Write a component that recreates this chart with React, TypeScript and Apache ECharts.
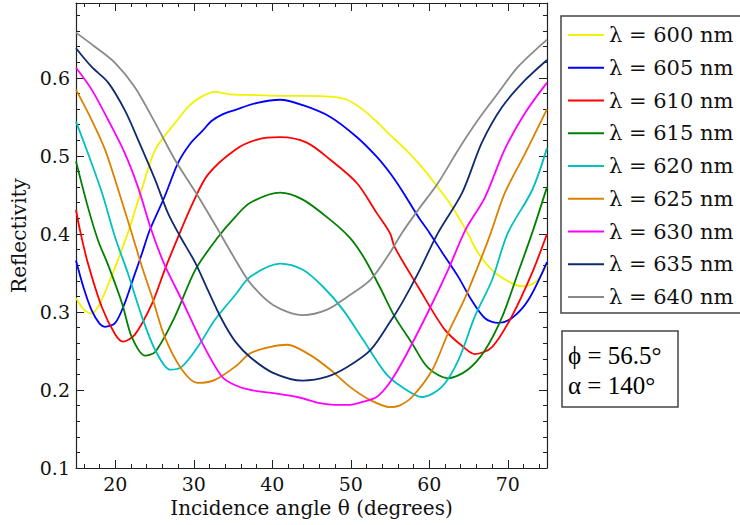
import React, { useEffect, useRef } from "react";
import * as echarts from "echarts";

// ---- data: [incidence angle (deg), reflectivity]
const lambda600 = [[15,0.318],[16,0.303],[17,0.298],[18,0.31],[19.5,0.345],[21.6,0.401],[23.3,0.455],[25.1,0.508],[27.6,0.542],[29.5,0.565],[31,0.576],[32.7,0.582],[34.6,0.579],[38,0.578],[41,0.577],[44,0.577],[47.4,0.576],[49.5,0.572],[51.6,0.559],[53.7,0.54],[55,0.527],[56.8,0.51],[58.6,0.491],[60.7,0.465],[62.9,0.435],[64.9,0.401],[65.8,0.383],[67,0.365],[68.4,0.35],[70.5,0.337],[71.8,0.333],[73.5,0.338],[75,0.36]];
const lambda605 = [[15,0.366],[16,0.33],[17,0.302],[18,0.285],[18.7,0.281],[20,0.286],[21.2,0.311],[22.3,0.343],[23.4,0.375],[24.4,0.405],[26.3,0.448],[28,0.491],[29.5,0.515],[31.1,0.532],[32.3,0.545],[33.6,0.553],[35.3,0.559],[38.1,0.568],[41,0.572],[43.9,0.565],[47.4,0.55],[50.8,0.524],[53.3,0.499],[55,0.478],[56.5,0.456],[58.6,0.422],[60,0.402],[61.6,0.377],[63.7,0.345],[65.4,0.315],[67.1,0.292],[68.8,0.286],[70.5,0.292],[72.6,0.315],[75,0.364]];
const lambda610 = [[15,0.431],[15.5,0.405],[16.5,0.363],[18.3,0.306],[20,0.271],[21,0.262],[22.5,0.271],[24.7,0.311],[26.3,0.354],[28,0.396],[29.8,0.438],[31.8,0.476],[35.3,0.508],[38.1,0.521],[41,0.524],[44.4,0.517],[47.4,0.495],[50.8,0.465],[53.3,0.427],[55,0.401],[55.6,0.383],[58.6,0.332],[62,0.277],[64.6,0.253],[65.8,0.246],[68,0.255],[70.5,0.294],[73.1,0.35],[75,0.4]];
const lambda615 = [[15,0.493],[16.5,0.435],[17.8,0.392],[19.1,0.36],[20.9,0.31],[22.1,0.268],[23.8,0.244],[25.1,0.249],[27.6,0.294],[30.2,0.354],[33.1,0.396],[35.3,0.422],[37.2,0.44],[41,0.453],[43.9,0.444],[47.4,0.418],[49.9,0.395],[51.6,0.371],[53.7,0.332],[55.6,0.294],[57.8,0.26],[59.8,0.229],[62.4,0.215],[64.9,0.226],[67.1,0.251],[69.3,0.294],[71.3,0.35],[73.1,0.401],[75,0.46]];
const lambda620 = [[15,0.544],[16.5,0.504],[18.3,0.453],[20,0.395],[21.6,0.35],[23.4,0.294],[25.1,0.251],[27,0.226],[28.5,0.23],[30.5,0.255],[32.7,0.29],[35.3,0.322],[37.2,0.345],[41,0.362],[43.9,0.354],[46.5,0.332],[49,0.303],[51.6,0.264],[54.4,0.222],[56.5,0.204],[59.1,0.191],[61.6,0.204],[63.7,0.238],[65.8,0.294],[68,0.341],[70,0.401],[73.1,0.456],[75,0.51]];
const lambda625 = [[15,0.585],[17,0.546],[18.7,0.508],[20.4,0.456],[22.1,0.401],[23.4,0.358],[24.7,0.319],[26.3,0.268],[28.5,0.226],[30.5,0.209],[32.7,0.213],[35.3,0.23],[37.2,0.247],[39.7,0.255],[41.9,0.258],[44.8,0.245],[47.4,0.226],[49.9,0.204],[52.5,0.187],[55,0.178],[56.2,0.18],[57.8,0.191],[60.4,0.226],[62.4,0.273],[64.6,0.319],[66.7,0.371],[67.9,0.403],[69.6,0.452],[72.2,0.503],[75,0.56]];
const lambda630 = [[15,0.613],[17,0.585],[19.1,0.546],[21.2,0.504],[22.9,0.46],[24.6,0.405],[26.3,0.36],[28.5,0.315],[31.1,0.26],[33.6,0.217],[35.3,0.206],[37.2,0.2],[40.1,0.196],[43.2,0.191],[46.1,0.183],[48,0.181],[49.9,0.181],[51.6,0.185],[53.3,0.191],[55,0.21],[56.9,0.242],[59.8,0.299],[62.4,0.354],[64.6,0.405],[67.1,0.447],[69.6,0.508],[72.2,0.555],[75,0.594]];
const lambda635 = [[15,0.638],[17,0.614],[19.1,0.594],[21.2,0.559],[22.9,0.521],[25.1,0.469],[26.7,0.427],[28.2,0.398],[30.2,0.363],[31.8,0.328],[33.6,0.29],[35.3,0.262],[37.2,0.242],[40.1,0.222],[43.9,0.212],[47,0.217],[49.5,0.229],[52.5,0.251],[55,0.287],[56.5,0.311],[58.6,0.35],[61.1,0.401],[64.2,0.453],[66.7,0.517],[69.3,0.563],[72.2,0.597],[75,0.623]];
const lambda640 = [[15,0.658],[17.4,0.64],[20,0.619],[22.5,0.588],[25.1,0.542],[27.6,0.495],[30.2,0.454],[32.7,0.412],[35.3,0.367],[37.2,0.337],[40.1,0.309],[43.9,0.296],[47,0.303],[49.5,0.319],[52.5,0.341],[55,0.376],[56.5,0.401],[58.6,0.431],[61.1,0.465],[63.7,0.508],[66.2,0.546],[68.8,0.581],[71.3,0.614],[75,0.649]];

const seriesNames = ["λ = 600 nm","λ = 605 nm","λ = 610 nm","λ = 615 nm","λ = 620 nm","λ = 625 nm","λ = 630 nm","λ = 635 nm","λ = 640 nm"];
const seriesData = [lambda600, lambda605, lambda610, lambda615, lambda620, lambda625, lambda630, lambda635, lambda640];
const seriesColors = ["#f2f200","#0000ff","#ff0000","#008000","#00c0c0","#dd8000","#ff00ff","#102a6e","#8a8a8a"];

// ---- axis ticks
const xMajorTicks = [20,30,40,50,60,70];
const xMinorTicks = [16,18,22,24,26,28,32,34,36,38,42,44,46,48,52,54,56,58,62,64,66,68,72,74];
const yMajorTicks = [0.1,0.2,0.3,0.4,0.5,0.6];
const yMinorTicks = [0.12,0.14,0.16,0.18,0.22,0.24,0.26,0.28,0.32,0.34,0.36,0.38,0.42,0.44,0.46,0.48,0.52,0.54,0.56,0.58,0.62,0.64,0.66,0.68];

const paramLines = ["ϕ = 56.5°", "α = 140°"];

const X_MIN = 15, X_MAX = 75, Y_MIN = 0.1, Y_MAX = 0.696;
const SERIF = '"DejaVu Serif", serif';
const AXIS_COLOR = "#222";

function xAxisDef(position: string, ticks: number[], len: number, labels: boolean, line: boolean, name?: string) {
  return {
    type: "value", position, min: X_MIN, max: X_MAX,
    splitLine: { show: false },
    axisLine: { show: line, onZero: false, lineStyle: { color: AXIS_COLOR, width: 1.2 } },
    axisTick: { show: true, inside: true, length: len, customValues: ticks, lineStyle: { color: AXIS_COLOR, width: 1 } },
    axisLabel: labels ? { show: true, customValues: ticks, margin: 6, color: "#111", fontFamily: SERIF, fontSize: 19 } : { show: false },
    name: name || "", nameLocation: "middle", nameGap: 27,
    nameTextStyle: { color: "#111", fontFamily: SERIF, fontSize: 20 },
  };
}
function yAxisDef(position: string, ticks: number[], len: number, labels: boolean, line: boolean, name?: string) {
  return {
    type: "value", position, min: Y_MIN, max: Y_MAX,
    splitLine: { show: false },
    axisLine: { show: line, onZero: false, lineStyle: { color: AXIS_COLOR, width: 1.2 } },
    axisTick: { show: true, inside: true, length: len, customValues: ticks, lineStyle: { color: AXIS_COLOR, width: 1 } },
    axisLabel: labels ? { show: true, customValues: ticks, margin: 6, color: "#111", fontFamily: SERIF, fontSize: 19, formatter: (v: number) => v.toFixed(1) } : { show: false },
    name: name || "", nameLocation: "middle", nameGap: 46,
    nameTextStyle: { color: "#111", fontFamily: SERIF, fontSize: 20 },
  };
}

export default function App() {
  const ref = useRef<HTMLDivElement>(null);
  useEffect(() => {
    if (!ref.current) return;
    const chart = echarts.init(ref.current, undefined, { renderer: "svg" });
    const series = seriesData.map((d, i) => ({
      name: seriesNames[i], type: "line", data: d,
      xAxisIndex: 0, yAxisIndex: 0,
      symbol: "none", smooth: 0.3,
      lineStyle: { color: seriesColors[i], width: 1.8 },
      itemStyle: { color: seriesColors[i] },
    }));
    chart.setOption({
      animation: false,
      backgroundColor: "#fff",
      grid: { left: 76, right: 193, top: 3, bottom: 57 },
      xAxis: [
        xAxisDef("bottom", xMajorTicks, 8, true, true, "Incidence angle θ (degrees)"),
        xAxisDef("bottom", xMinorTicks, 4, false, false),
        xAxisDef("top", xMajorTicks, 8, false, true),
        xAxisDef("top", xMinorTicks, 4, false, false),
      ],
      yAxis: [
        yAxisDef("left", yMajorTicks, 8, true, true, "Reflectivity"),
        yAxisDef("left", yMinorTicks, 4, false, false),
        yAxisDef("right", yMajorTicks, 8, false, true),
        yAxisDef("right", yMinorTicks, 4, false, false),
      ],
      legend: {
        orient: "vertical", left: 568, top: 23, padding: 0,
        icon: "rect", itemWidth: 36, itemHeight: 2, itemGap: 8.75,
        textStyle: { fontFamily: SERIF, fontSize: 21, lineHeight: 24, color: "#111" },
        data: seriesNames,
      },
      graphic: [
        { type: "rect", shape: { x: 561, y: 16, width: 190, height: 297 }, style: { fill: "none", stroke: "#444", lineWidth: 1.5 } },
        { type: "rect", shape: { x: 562, y: 331, width: 116, height: 76 }, style: { fill: "none", stroke: "#444", lineWidth: 1.5 } },
        ...paramLines.map((t, i) => ({
          type: "text", x: 568, y: 355 + i * 30,
          style: { text: t, fontFamily: '"Liberation Serif", serif', fontSize: 25, fill: "#000", verticalAlign: "middle" },
        })),
      ],
      series,
    });
    return () => chart.dispose();
  }, []);
  return <div ref={ref} style={{ position: "fixed", left: 0, top: 0, width: 740, height: 525, background: "#fff" }} />;
}
